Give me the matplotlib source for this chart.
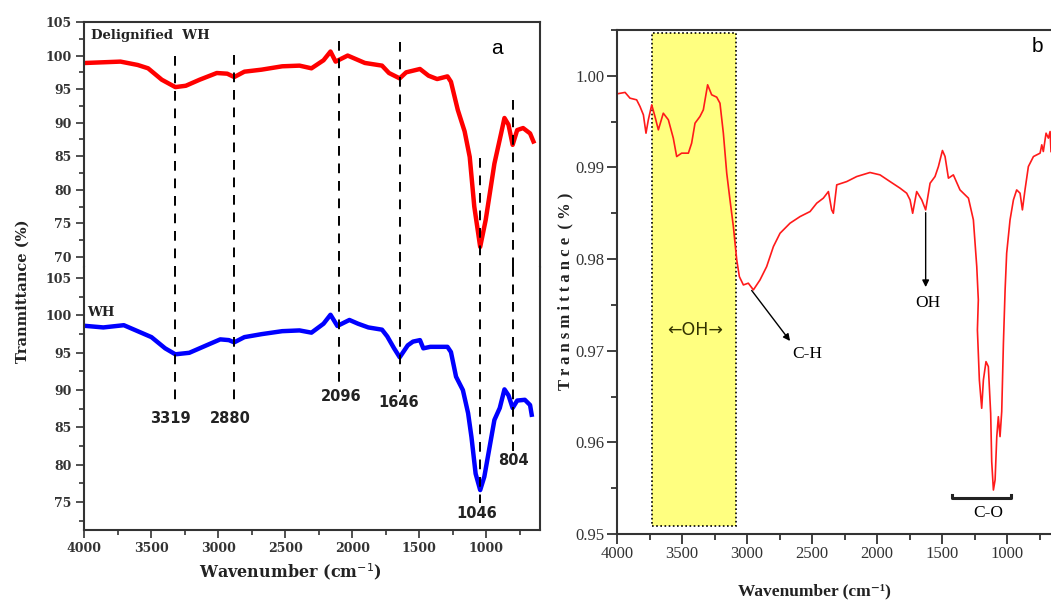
import matplotlib.pyplot as plt
from matplotlib.ticker import MultipleLocator
from matplotlib.patches import Rectangle

# panel a - upper trace (Delignified WH)
dwh_x = [3984, 3856, 3728, 3600, 3522, 3420, 3319, 3241, 3138, 3010, 2932, 2880,
         2804, 2676, 2522, 2393, 2304, 2214, 2162, 2124, 2034, 1906, 1778, 1726,
         1646, 1598, 1495, 1431, 1367, 1290, 1264, 1213, 1162, 1124, 1090, 1046,
         1005, 940, 890, 865, 835, 804, 770, 726, 674, 649]
dwh_y = [98.9, 99.0, 99.1, 98.6, 98.1, 96.4, 95.3, 95.5, 96.4, 97.4, 97.3, 96.8,
         97.6, 97.9, 98.4, 98.5, 98.1, 99.3, 100.6, 99.1, 100.0, 98.9, 98.5, 97.4,
         96.6, 97.5, 98.0, 97.0, 96.5, 96.9, 96.1, 91.9, 88.7, 84.9, 77.5, 71.5,
         75.5, 83.9, 88.4, 90.7, 89.7, 86.7, 88.9, 89.2, 88.4, 87.2]

# panel a - lower trace (WH)
wh_x = [3984, 3856, 3703, 3600, 3497, 3395, 3319, 3215, 3087, 2984, 2920, 2880,
        2804, 2676, 2522, 2393, 2304, 2214, 2162, 2111, 2021, 1957, 1880, 1778,
        1739, 1688, 1646, 1586, 1547, 1495, 1470, 1418, 1290, 1264, 1226, 1175,
        1136, 1111, 1080, 1046, 1015, 940, 900, 865, 835, 804, 770, 713, 674, 662]
wh_y = [98.6, 98.4, 98.7, 97.9, 97.1, 95.6, 94.8, 95.0, 96.0, 96.8, 96.7, 96.4,
        97.1, 97.5, 97.9, 98.0, 97.7, 98.9, 100.1, 98.6, 99.4, 98.9, 98.4, 98.1,
        97.2, 95.6, 94.4, 96.0, 96.5, 96.7, 95.6, 95.8, 95.8, 95.1, 91.8, 90.0,
        86.9, 83.7, 78.8, 76.6, 78.4, 86.0, 87.6, 90.1, 89.3, 87.6, 88.6, 88.7, 88.0, 86.7]

# peak markers: position, top (upper scale), bottom (lower scale), label pos
peaks = [3319, 2880, 2096, 1646, 1046, 804]
peak_top = [99.9, 100.1, 102.2, 102.0, 84.8, 93.4]
peak_bot = [88.0, 88.2, 90.9, 89.8, 74.9, 81.9]
peak_lx = [3355, 2907, 2085, 1654, 1072, 797]
peak_ly = [86.2, 86.2, 89.2, 88.3, 73.45, 80.6]

# panel b trace
b_x = [3997, 3938, 3900, 3849, 3823, 3797, 3777, 3759, 3733, 3708, 3682, 3644,
       3605, 3567, 3541, 3503, 3451, 3426, 3400, 3362, 3336, 3303, 3272, 3233,
       3208, 3182, 3156, 3131, 3105, 3079, 3059, 3028, 2990, 2951, 2900, 2849,
       2797, 2746, 2669, 2592, 2515, 2464, 2413, 2374, 2349, 2336, 2310, 2233,
       2156, 2054, 1977, 1900, 1823, 1772, 1746, 1726, 1695, 1656, 1626, 1592,
       1554, 1528, 1497, 1477, 1451, 1413, 1362, 1297, 1259, 1233, 1221, 1228,
       1213, 1195, 1182, 1162, 1144, 1126, 1118, 1105, 1092, 1079, 1067, 1054,
       1041, 1028, 1015, 1003, 977, 951, 926, 900, 882, 862, 836, 797, 746, 733,
       721, 700, 682, 669, 662]
b_y = [0.99804, 0.99819, 0.99756, 0.99738, 0.99665, 0.99574, 0.99374, 0.99520,
       0.99683, 0.99556, 0.99410, 0.99592, 0.99520, 0.99320, 0.99119, 0.99156,
       0.99156, 0.99265, 0.99483, 0.99556, 0.99629, 0.99902, 0.99793, 0.99767,
       0.99701, 0.99374, 0.98937, 0.98646, 0.98355, 0.97991, 0.97809, 0.97718,
       0.97737, 0.97664, 0.97773, 0.97918, 0.98137, 0.98282, 0.98392, 0.98464,
       0.98519, 0.98610, 0.98665, 0.98737, 0.98537, 0.98500, 0.98810, 0.98846,
       0.98901, 0.98945, 0.98919, 0.98846, 0.98774, 0.98719, 0.98646, 0.98500,
       0.98737, 0.98646, 0.98537, 0.98828, 0.98901, 0.99010, 0.99185, 0.99120,
       0.98883, 0.98919, 0.98755, 0.98665, 0.98428, 0.97918, 0.97555, 0.97227,
       0.96681, 0.96372, 0.96681, 0.96881, 0.96827, 0.96317, 0.95790, 0.95480,
       0.95590, 0.96063, 0.96280, 0.96063, 0.96336, 0.97081, 0.97664, 0.98064,
       0.98428, 0.98646, 0.98755, 0.98719, 0.98537, 0.98755, 0.99010, 0.99119,
       0.99156, 0.99247, 0.99174, 0.99374, 0.99320, 0.99392, 0.99174]

W, H = 1051, 601


def box(l, t, r, b):
    return [l / W, 1 - b / H, (r - l) / W, (b - t) / H]


fig = plt.figure(figsize=(W / 100, H / 100), dpi=100)
axu = fig.add_axes(box(84, 22, 540, 267))
axl = fig.add_axes(box(84, 267, 540, 530))
axb = fig.add_axes(box(617, 30, 1051, 534))

serif_a = ['DejaVu Serif']
serif_b = ['Liberation Serif', 'DejaVu Serif']
spine_c = '#333333'

# ---- panel a ----
axu.plot(dwh_x, dwh_y, color='#ff0000', lw=3.2, solid_joinstyle='round')
axl.plot(wh_x, wh_y, color='#0000ff', lw=3.2, solid_joinstyle='round')
axu.set_ylim(68.5, 105)
axl.set_ylim(71.25, 106.5)
for ax in (axu, axl):
    ax.set_xlim(4000, 600)
    ax.yaxis.set_major_locator(MultipleLocator(5))
    ax.yaxis.set_minor_locator(MultipleLocator(2.5))
    ax.xaxis.set_major_locator(MultipleLocator(500))
    ax.xaxis.set_minor_locator(MultipleLocator(250))
    ax.tick_params(which='major', direction='out', length=6, width=1.2, color=spine_c, pad=3)
    ax.tick_params(which='minor', direction='out', length=3.5, width=1.2, color=spine_c)
    for s in ax.spines.values():
        s.set_linewidth(1.5)
        s.set_color(spine_c)
axu.spines['bottom'].set_visible(False)
axl.spines['top'].set_visible(False)
axu.tick_params(axis='x', which='both', bottom=False, labelbottom=False)
axu.set_yticks([70, 75, 80, 85, 90, 95, 100, 105])
axl.set_yticks([75, 80, 85, 90, 95, 100, 105])
for ax in (axu, axl):
    for lbl in ax.get_yticklabels() + ax.get_xticklabels():
        lbl.set_fontfamily(serif_a)
        lbl.set_fontweight('bold')
        lbl.set_fontsize(9)
        lbl.set_color('#333333')

for x, t, b, lx, ly in zip(peaks, peak_top, peak_bot, peak_lx, peak_ly):
    axu.plot([x, x], [t, 68.5], color='black', lw=1.4, ls=(0, (5, 4)))
    axl.plot([x, x], [106.5, b], color='black', lw=1.4, ls=(0, (5, 4)))
    axl.text(lx, ly, str(x), ha='center', va='center', fontsize=10.5,
             fontweight='bold', color='#222222', family='DejaVu Sans')

axu.text(3945, 103, 'Delignified  WH', ha='left', va='center', fontsize=9.5,
         fontweight='bold', family=serif_a, color='#222222')
axl.text(3975, 100.4, 'WH', ha='left', va='center', fontsize=9.5,
         fontweight='bold', family=serif_a, color='#222222')
axu.text(918, 101.1, 'a', ha='center', va='center', fontsize=15, family='Liberation Sans')

fig.text(290 / W, 1 - 572 / H, 'Wavenumber (cm$^{-1}$)', ha='center', va='center',
         fontsize=11.5, fontweight='bold', family=serif_a, color='#222222')
fig.text(23 / W, 1 - 291 / H, 'Tranmittance (%)', ha='center', va='center', rotation=90,
         fontsize=10.5, fontweight='bold', family=serif_a, color='#222222')

# ---- panel b ----
axb.add_patch(Rectangle((3731, 0.9509), 3085 - 3731, 1.00469 - 0.9509,
                        facecolor='#ffff80', edgecolor='black', lw=1.2, ls=(0, (1, 1.5))))
axb.plot(b_x, b_y, color='#ff1a1a', lw=1.2)
axb.set_xlim(4000, 662)
axb.set_ylim(0.95, 1.005)
axb.xaxis.set_major_locator(MultipleLocator(500))
axb.xaxis.set_minor_locator(MultipleLocator(250))
axb.set_yticks([0.95, 0.96, 0.97, 0.98, 0.99, 1.00])
axb.set_yticklabels(['0.95', '0.96', '0.97', '0.98', '0.99', '1.00'])
axb.yaxis.set_minor_locator(MultipleLocator(0.005))
axb.tick_params(which='major', direction='out', length=7, width=1.3, color=spine_c, pad=2)
axb.tick_params(which='minor', direction='out', length=4, width=1.3, color=spine_c)
axb.spines['right'].set_visible(False)
for s in axb.spines.values():
    s.set_linewidth(1.5)
    s.set_color(spine_c)
for lbl in axb.get_yticklabels() + axb.get_xticklabels():
    lbl.set_fontfamily(serif_b)
    lbl.set_fontsize(12)
    lbl.set_color('#333333')

axb.text(3400, 0.97227, '\u2190OH\u2192', ha='center', va='center', fontsize=12.5,
         family='DejaVu Sans', color='#333300')
axb.annotate('', xy=(2656, 0.97082), xytext=(2977, 0.97682),
             arrowprops=dict(arrowstyle='-|>', color='black', lw=1, mutation_scale=10))
axb.text(2650, 0.96965, 'C-H', ha='left', va='center', fontsize=12.5, family=serif_b)
axb.annotate('', xy=(1626, 0.97664), xytext=(1626, 0.98537),
             arrowprops=dict(arrowstyle='-|>', color='black', lw=1, mutation_scale=10))
axb.text(1608, 0.97522, 'OH', ha='center', va='center', fontsize=12.5, family=serif_b)
axb.plot([1423, 1423, 969, 969], [0.95426, 0.9539, 0.9539, 0.95426], color='#222222', lw=2.2)
axb.text(1146, 0.9523, 'C-O', ha='center', va='center', fontsize=12.5, family=serif_b)
axb.text(769, 1.00317, 'b', ha='center', va='center', fontsize=15, family='Liberation Sans')

fig.text(814 / W, 1 - 591 / H, 'Wavenumber (cm\u207b\u00b9)', ha='center', va='center',
         fontsize=12.5, fontweight='bold', family=serif_b, color='#222222')
fig.text(565 / W, 1 - 291 / H, 'T r a n s m i t t a n c e  ( % )', ha='center', va='center',
         rotation=90, fontsize=12, fontweight='bold', family=serif_b, color='#222222')

fig.savefig('out.png', dpi=100)
